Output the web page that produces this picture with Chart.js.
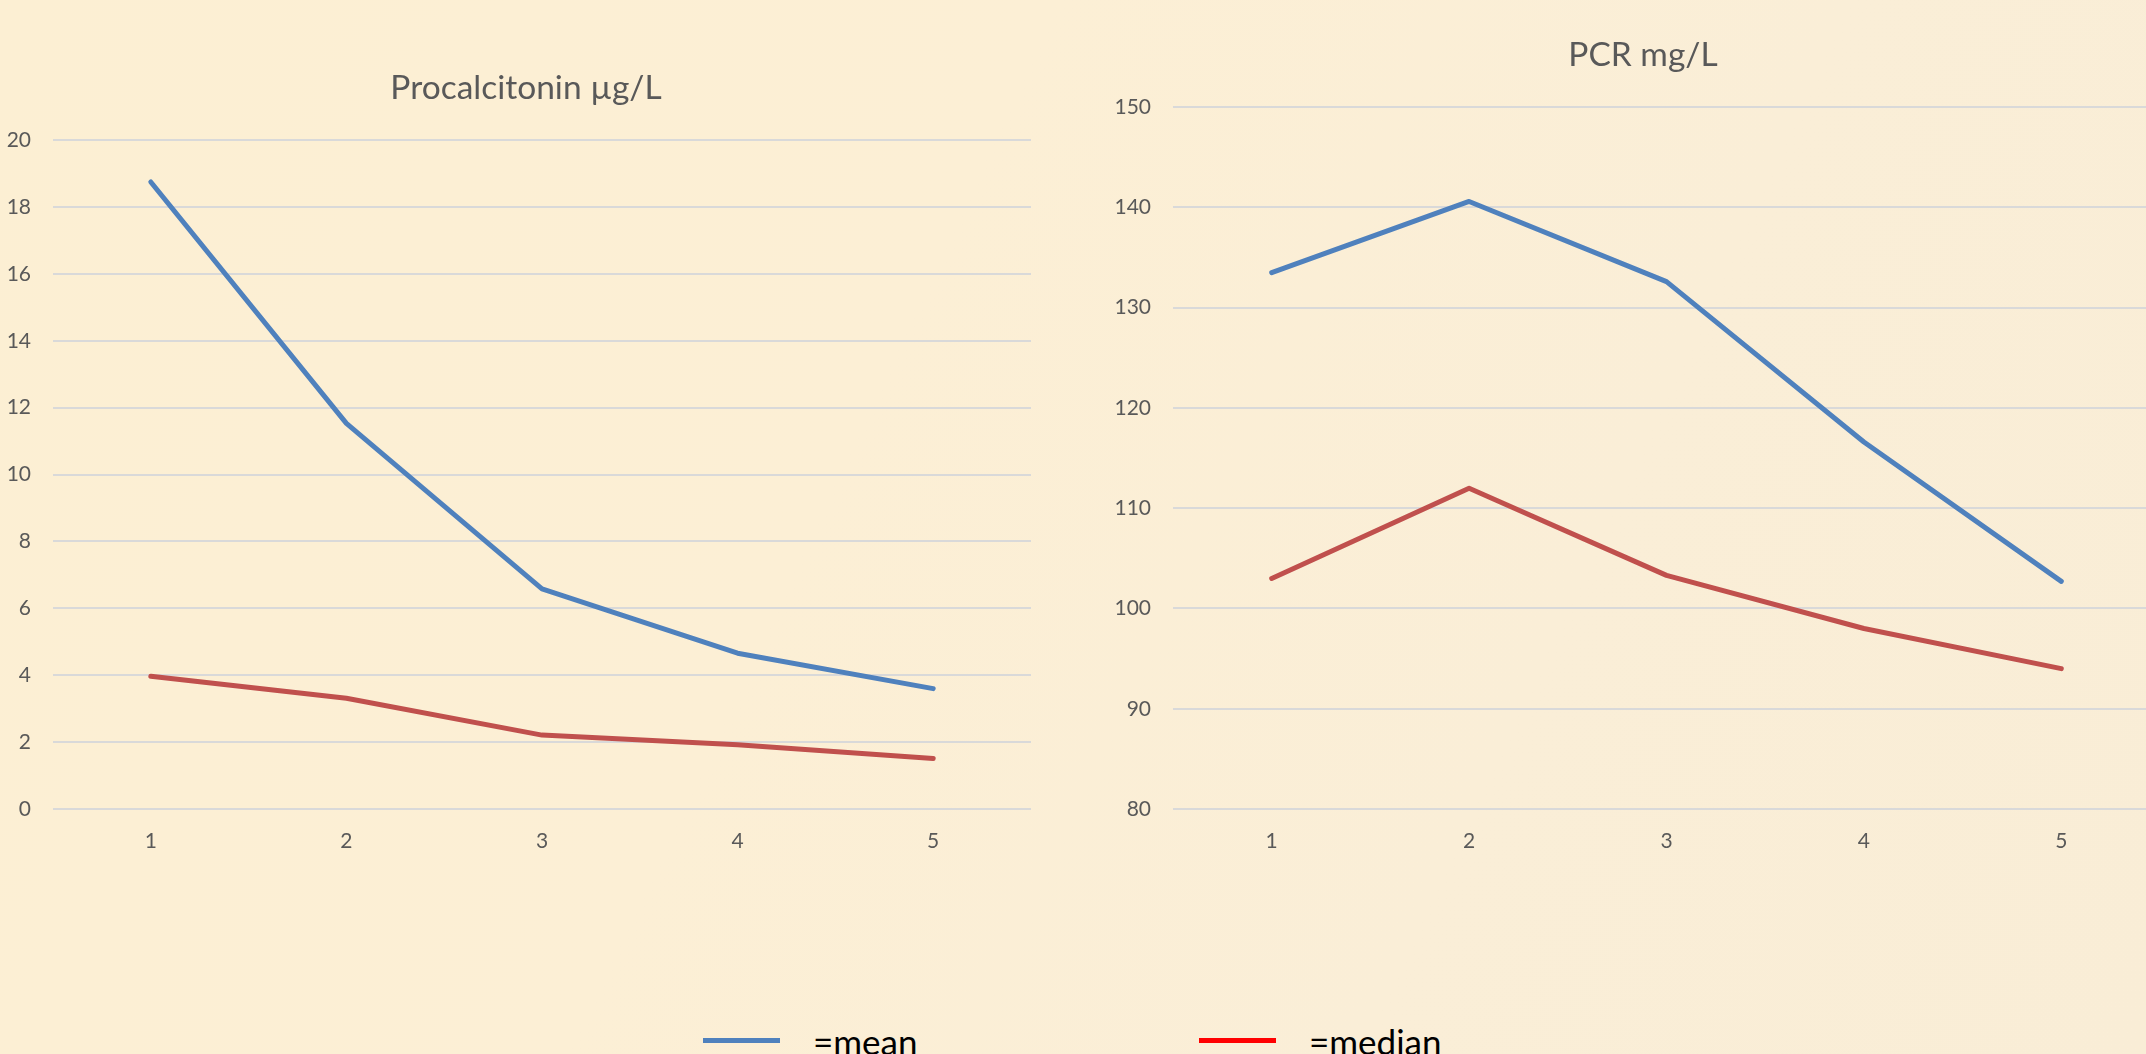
<!DOCTYPE html>
<html>
<head>
<meta charset="utf-8">
<title>Procalcitonin / PCR</title>
<script src="https://cdn.jsdelivr.net/npm/chart.js@4.4.1/dist/chart.umd.min.js"></script>
<style>
  html, body { margin: 0; padding: 0; }
  body {
    width: 2146px; height: 1054px; overflow: hidden; position: relative;
    background: linear-gradient(115deg, #fcefd3 0%, #fcefd5 40%, #faeed7 70%, #f9edd6 100%);
    font-family: Lato, sans-serif;
  }
  .panel { position: absolute; top: 0; height: 880px; }
  #pct-panel { left: 0; width: 1052px; }
  #crp-panel { left: 1105px; width: 1076px; }
  .swatch { position: absolute; top: 1038px; height: 5px; width: 77px; }
  .key { position: absolute; top: 1024px; font-size: 35px; line-height: 35px; color: #000; white-space: nowrap; }
</style>
</head>
<body>
<div class="panel" id="pct-panel"><canvas id="pct-chart" width="1052" height="880"></canvas></div>
<div class="panel" id="crp-panel"><canvas id="crp-chart" width="1076" height="880"></canvas></div>

<div class="swatch" style="left:703px;background:#4f81bd"></div>
<div class="key" style="left:813px">=mean</div>
<div class="swatch" style="left:1199px;background:#ff0000"></div>
<div class="key" style="left:1309px">=median</div>

<script>
'use strict';

// values
var categories = ['1', '2', '3', '4', '5'];

var pctMean = [18.75, 11.53, 6.58, 4.66, 3.6];
var pctMedian = [3.97, 3.31, 2.21, 1.92, 1.51];
var pctTicks = [0, 2, 4, 6, 8, 10, 12, 14, 16, 18, 20];

var crpMean = [133.5, 140.6, 132.6, 116.6, 102.7];
var crpMedian = [103.0, 112.0, 103.3, 98.0, 94.0];
var crpTicks = [80, 90, 100, 110, 120, 130, 140, 150];

(function () {
  if (typeof Chart === 'undefined') return;

  var TEXT = '#595959';
  var GRID = '#d9d9d9';

  // the right padding would pull the title off-centre; stretch its box to the full canvas
  var centreTitle = {
    id: 'centreTitle',
    afterLayout: function (chart) {
      if (chart.titleBlock) {
        chart.titleBlock.left = 0;
        chart.titleBlock.right = chart.width;
      }
    },
  };

  function draw(canvas, title, titleTop, mean, median, ticks, axisWidth) {
    return new Chart(canvas, {
      type: 'line',
      data: {
        labels: categories,
        datasets: [
          { label: 'mean', data: mean, borderColor: '#4f81bd' },
          { label: 'median', data: median, borderColor: '#c0504d' },
        ],
      },
      plugins: [centreTitle],
      options: {
        responsive: false,
        animation: false,
        layout: { padding: { left: 0, right: 21, top: 0, bottom: 0 } },
        elements: {
          line: { borderWidth: 5, tension: 0, borderCapStyle: 'round', borderJoinStyle: 'round', fill: false },
          point: { radius: 0, hoverRadius: 0 },
        },
        plugins: {
          legend: { display: false },
          tooltip: { enabled: false },
          title: {
            display: true,
            text: title,
            color: TEXT,
            font: { family: 'Lato', size: 33.5, weight: 'normal' },
            padding: { top: titleTop, bottom: 32 },
          },
        },
        scales: {
          x: {
            offset: true,
            grid: { display: false },
            border: { display: false },
            ticks: { color: TEXT, font: { family: 'Lato', size: 21 }, padding: 12 },
            afterFit: function (s) { s.height = 880 - 809; },
          },
          y: {
            min: ticks[0],
            max: ticks[ticks.length - 1],
            afterBuildTicks: function (s) {
              s.ticks = ticks.map(function (v) { return { value: v }; });
            },
            grid: { color: GRID, lineWidth: 2, drawTicks: false },
            border: { display: false },
            ticks: { color: TEXT, font: { family: 'Lato', size: 21 }, padding: 22 },
            afterFit: function (s) { s.width = axisWidth; },
          },
        },
      },
    });
  }

  draw(document.getElementById('pct-chart'), 'Procalcitonin µg/L', 68, pctMean, pctMedian, pctTicks, 53);
  draw(document.getElementById('crp-chart'), 'PCR mg/L', 35, crpMean, crpMedian, crpTicks, 68);
})();
</script>
</body>
</html>
